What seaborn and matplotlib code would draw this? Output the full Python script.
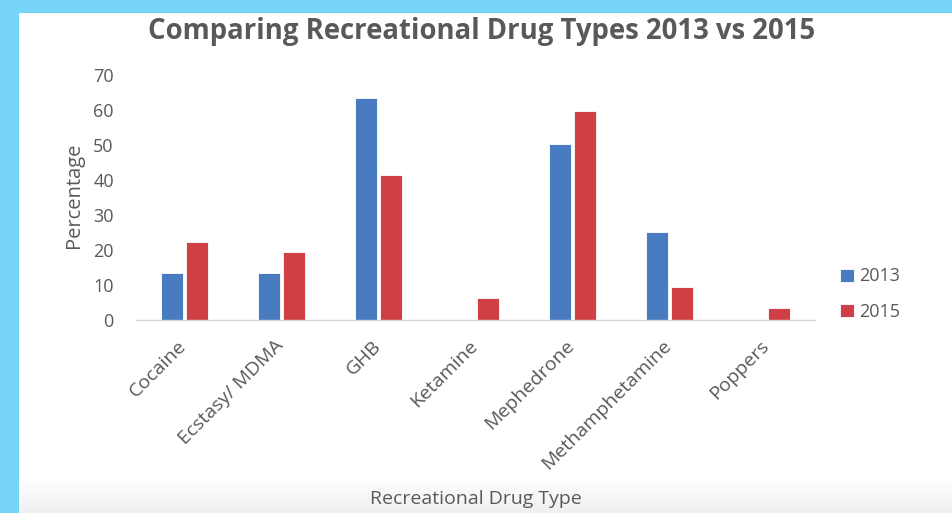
import matplotlib
matplotlib.use("Agg")
import matplotlib.pyplot as plt
import matplotlib.transforms as mtransforms
import seaborn as sns
import pandas as pd
import numpy as np
from matplotlib.patches import Rectangle

categories = ["Cocaine", "Ecstasy/ MDMA", "GHB", "Ketamine", "Mephedrone",
              "Methamphetamine", "Poppers"]
years = ["2013", "2015"]
values_2013 = [13.3, 13.3, 63.4, 0, 50.4, 25.2, 0]
values_2015 = [22.4, 19.3, 41.3, 6.2, 59.6, 9.3, 3.3]

df = pd.DataFrame({
    "Drug": categories * 2,
    "Year": [years[0]] * len(categories) + [years[1]] * len(categories),
    "Percentage": values_2013 + values_2015,
})

sns.set_theme(style="white")
plt.rcParams["font.family"] = ["Open Sans", "DejaVu Sans"]
TXT = "#595959"

fig = plt.figure(figsize=(9.52, 5.13), dpi=100)

# background frame: blue border top/left, subtle gradient bottom
fig.patches.append(Rectangle((0, 0), 1, 1, transform=fig.transFigure,
                             facecolor="#76D5F6", edgecolor="none", zorder=-10))
fig.patches.append(Rectangle((19 / 952, 0), 1, 1 - 13 / 513, transform=fig.transFigure,
                             facecolor="white", edgecolor="none", zorder=-9))
gax = fig.add_axes([19 / 952, 0, 1 - 19 / 952, 36 / 513], zorder=-8)
grad = np.linspace(1.0, 0.94, 50).reshape(-1, 1)
gax.imshow(np.dstack([grad, grad, grad]), aspect="auto", extent=[0, 1, 0, 1], origin="upper")
gax.set_axis_off()

ax = fig.add_axes([136 / 952, 193 / 513, 679 / 952, 245 / 513])
ax.set_facecolor("none")
sns.barplot(data=df, x="Drug", y="Percentage", hue="Year", order=categories,
            hue_order=years, palette={"2013": "#487BBF", "2015": "#CF3F44"},
            saturation=1, width=0.5, gap=0.1, edgecolor="#FFFFFF", linewidth=0.6,
            ax=ax, legend=True)

ax.set_ylim(0, 70)
ax.set_xlim(-0.5, len(categories) - 0.5)
ax.set_yticks(range(0, 71, 10))
for s in ["top", "right", "left"]:
    ax.spines[s].set_visible(False)
ax.spines["bottom"].set_color("#D9D9D9")
ax.spines["bottom"].set_linewidth(1.0)
ax.tick_params(axis="y", length=0, pad=16, labelsize=13, labelcolor=TXT)
ax.tick_params(axis="x", length=0, pad=12, labelsize=14, labelcolor=TXT)
shift = mtransforms.ScaledTranslation(-7 / 100, 0, fig.dpi_scale_trans)
for lbl in ax.get_xticklabels():
    lbl.set_rotation(45)
    lbl.set_ha("right")
    lbl.set_rotation_mode("anchor")
    lbl.set_transform(lbl.get_transform() + shift)

ax.set_ylabel("Percentage", fontsize=14.5, color=TXT)
ax.yaxis.set_label_coords(-0.076, 0.51)
ax.set_xlabel("Recreational Drug Type", fontsize=14, color=TXT)
ax.xaxis.set_label_coords(0.5, -0.73)
ax.xaxis.label.set_va("center")

handles, labels = ax.get_legend_handles_labels()
ax.legend(handles, labels, loc="center left", bbox_to_anchor=(824 / 952, 1 - 294 / 513),
          bbox_transform=fig.transFigure, frameon=False, fontsize=13,
          handlelength=0.75, handleheight=0.75, handletextpad=0.3,
          labelspacing=0.95, labelcolor=TXT)

fig.text(482 / 952, 1 - 32 / 513, "Comparing Recreational Drug Types 2013 vs 2015",
         ha="center", va="center", fontsize=19.8, fontweight="bold", color=TXT)

fig.savefig("out.png", dpi=100)
